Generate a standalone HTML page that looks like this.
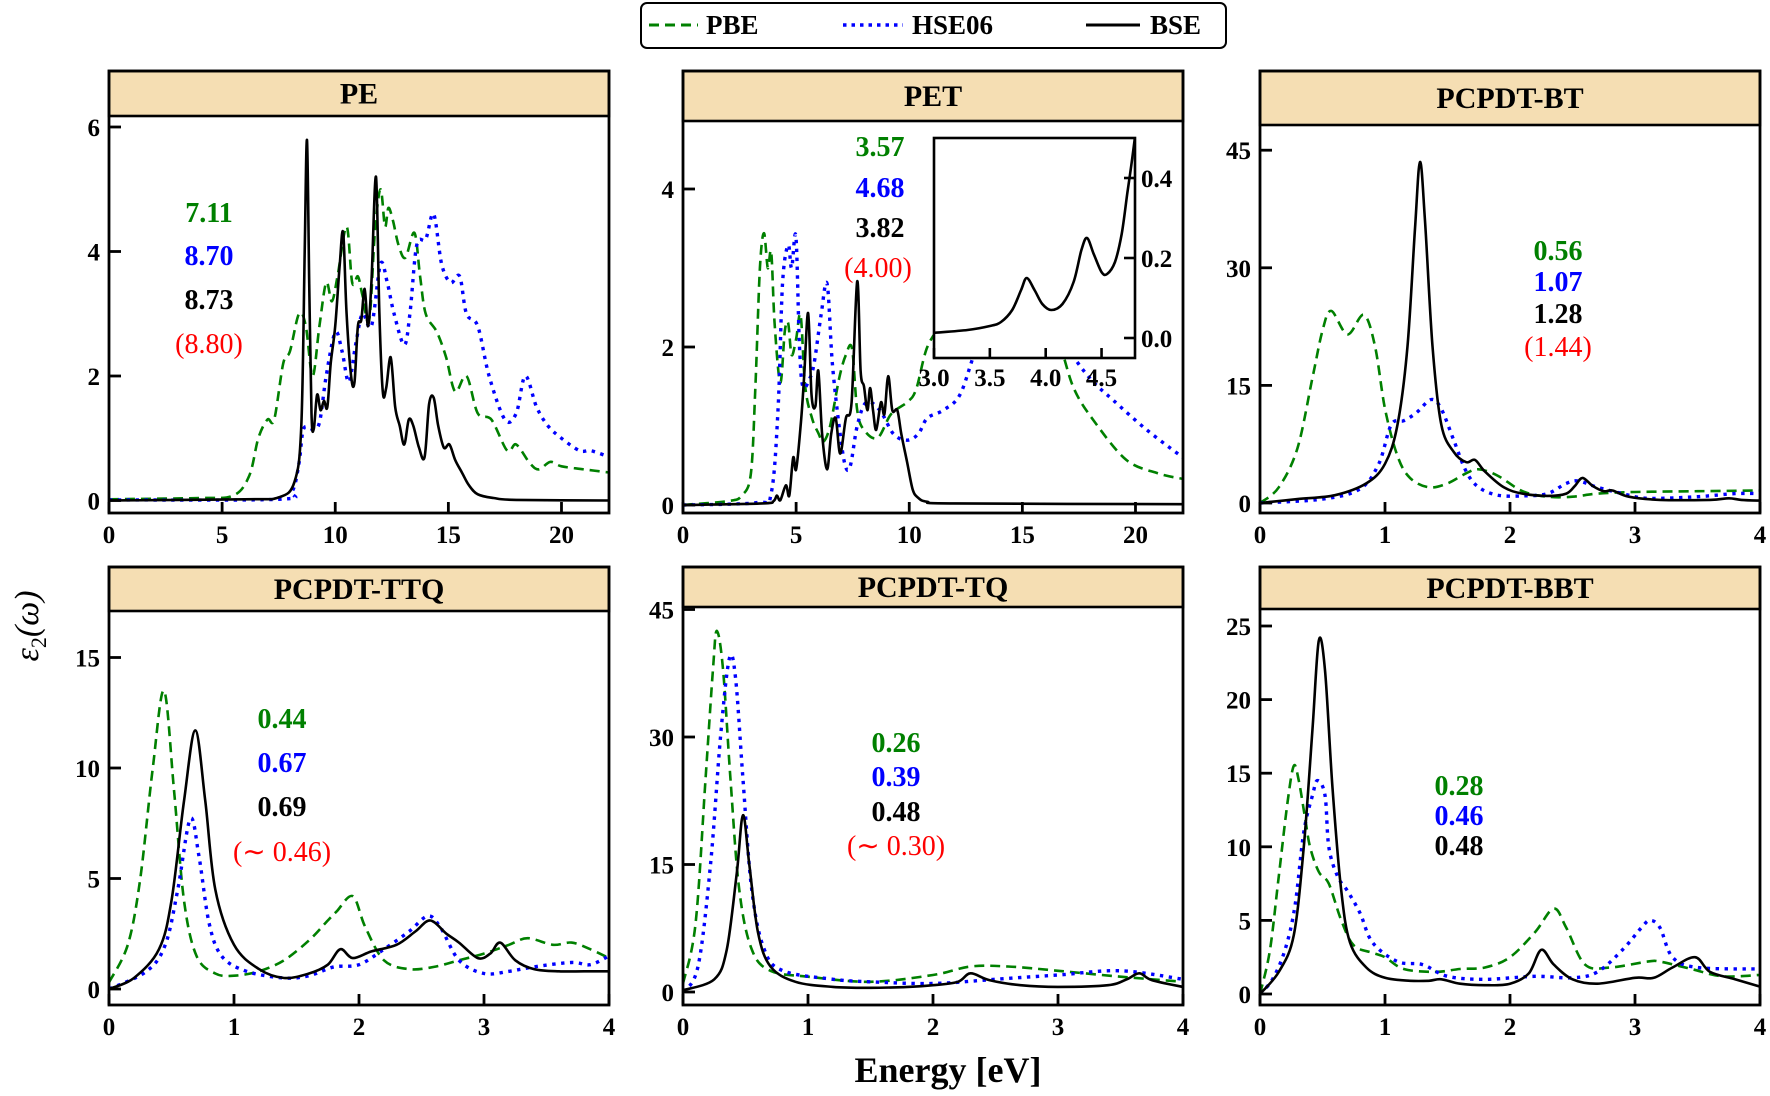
<!DOCTYPE html>
<html><head><meta charset="utf-8">
<style>
html,body{margin:0;padding:0;background:#fff;}
svg{display:block;}
text{font-family:"Liberation Serif",serif;}
</style></head>
<body>
<svg id="s" width="1770" height="1096" viewBox="0 0 1770 1096" xmlns="http://www.w3.org/2000/svg">
<defs></defs>
<g id="plots"></g>
<!-- Legend -->
<rect x="641" y="3" width="585" height="45" rx="6" ry="6" fill="#fff" stroke="#000" stroke-width="2"/>
<line x1="649" y1="25" x2="698" y2="25" stroke="#008000" stroke-width="3" stroke-dasharray="10,6"/>
<text x="706" y="34" font-size="27" font-weight="bold">PBE</text>
<line x1="843" y1="25" x2="903" y2="25" stroke="#0000ff" stroke-width="3.5" stroke-dasharray="3.5,5"/>
<text x="912" y="34" font-size="27" font-weight="bold">HSE06</text>
<line x1="1086" y1="25" x2="1140" y2="25" stroke="#000" stroke-width="3"/>
<text x="1150" y="34" font-size="27" font-weight="bold">BSE</text>
<!-- axis labels -->
<text x="948" y="1082" font-size="36" font-weight="bold" text-anchor="middle">Energy [eV]</text>
<text transform="translate(38,626) rotate(-90)" font-size="34" font-style="italic" text-anchor="middle">ε<tspan font-size="22" dy="8" font-style="normal">2</tspan><tspan dy="-8">(ω)</tspan></text>
<!-- annotations -->
<g font-size="28" font-weight="bold" text-anchor="middle">
<text x="209" y="222" fill="#008000">7.11</text>
<text x="209" y="265" fill="#0000ff">8.70</text>
<text x="209" y="309" fill="#000">8.73</text>
<text x="209" y="353" fill="#ff0000" font-weight="500">(8.80)</text>

<text x="880" y="156" fill="#008000">3.57</text>
<text x="880" y="197" fill="#0000ff">4.68</text>
<text x="880" y="237" fill="#000">3.82</text>
<text x="878" y="277" fill="#ff0000" font-weight="500">(4.00)</text>

<text x="1558" y="260" fill="#008000">0.56</text>
<text x="1558" y="291" fill="#0000ff">1.07</text>
<text x="1558" y="323" fill="#000">1.28</text>
<text x="1558" y="356" fill="#ff0000" font-weight="500">(1.44)</text>

<text x="282" y="728" fill="#008000">0.44</text>
<text x="282" y="772" fill="#0000ff">0.67</text>
<text x="282" y="816" fill="#000">0.69</text>
<text x="282" y="861" fill="#ff0000" font-weight="500">(∼ 0.46)</text>

<text x="896" y="752" fill="#008000">0.26</text>
<text x="896" y="786" fill="#0000ff">0.39</text>
<text x="896" y="821" fill="#000">0.48</text>
<text x="896" y="855" fill="#ff0000" font-weight="500">(∼ 0.30)</text>

<text x="1459" y="795" fill="#008000">0.28</text>
<text x="1459" y="825" fill="#0000ff">0.46</text>
<text x="1459" y="855" fill="#000">0.48</text>
</g>
</svg>
<script>
var NS="http://www.w3.org/2000/svg";
var svg=document.getElementById('s'),G=document.getElementById('plots'),D=svg.querySelector('defs');
function el(t,a,p){var e=document.createElementNS(NS,t);for(var k in a)e.setAttribute(k,a[k]);(p||G).appendChild(e);return e;}
function path(pts,fx,fy){var P=pts.map(function(p){return [fx(p[0]),fy(p[1])];});
 var d="M"+P[0][0].toFixed(1)+","+P[0][1].toFixed(1);
 for(var i=0;i<P.length-1;i++){var p0=P[i-1]||P[i],p1=P[i],p2=P[i+1],p3=P[i+2]||P[i+1];
  var c1=[p1[0]+(p2[0]-p0[0])/6,p1[1]+(p2[1]-p0[1])/6],c2=[p2[0]-(p3[0]-p1[0])/6,p2[1]-(p3[1]-p1[1])/6];
  d+="C"+c1[0].toFixed(1)+","+c1[1].toFixed(1)+" "+c2[0].toFixed(1)+","+c2[1].toFixed(1)+" "+p2[0].toFixed(1)+","+p2[1].toFixed(1);}
 return d;}
var sty={pbe:{stroke:"#008000","stroke-width":2.6,"stroke-dasharray":"10,6",fill:"none"},
 hse:{stroke:"#0000ff","stroke-width":3.4,"stroke-dasharray":"3.4,5.5",fill:"none"},
 bse:{stroke:"#000","stroke-width":2.6,fill:"none"}};
var cid=0;
function panel(c){
 var fx=function(x){return c.L+(x/c.xmax)*(c.R-c.L);},fy=function(y){return c.y0-y*c.ypu;};
 cid++;var cp=el('clipPath',{id:'c'+cid},D);el('rect',{x:c.L,y:c.bandB,width:c.R-c.L,height:c.B-c.bandB},cp);
 var g=el('g',{'clip-path':'url(#c'+cid+')'});
 ['pbe','hse','bse'].forEach(function(k){if(c[k]){var a=Object.assign({d:path(c[k],fx,fy)},sty[k]);el('path',a,g);}});
 c.xt.forEach(function(t){var x=fx(t);el('line',{x1:x,y1:c.B,x2:x,y2:c.B-11,stroke:"#000","stroke-width":2.8});
  var tx=el('text',{x:x,y:c.B+30,"font-size":25,"font-weight":"bold","text-anchor":"middle"});tx.textContent=t;});
 c.yt.forEach(function(t){var y=fy(t);el('line',{x1:c.L,y1:y,x2:c.L+12,y2:y,stroke:"#000","stroke-width":2.8});
  var tx=el('text',{x:c.L-9,y:y+9,"font-size":25,"font-weight":"bold","text-anchor":"end"});tx.textContent=t;});
 el('rect',{x:c.L,y:c.T,width:c.R-c.L,height:c.bandB-c.T,fill:"#f5deb3",stroke:"#000","stroke-width":2.6});
 el('rect',{x:c.L,y:c.T,width:c.R-c.L,height:c.B-c.T,fill:"none",stroke:"#000","stroke-width":2.8});
 var tt=el('text',{x:(c.L+c.R)/2,y:(c.T+c.bandB)/2+10,"font-size":30,"font-weight":"bold","text-anchor":"middle"});tt.textContent=c.title;
 return {fx:fx,fy:fy};
}
panel({title:"PE",L:109,R:609,T:71,B:513,bandB:116,xmax:22.1,y0:500.5,ypu:62.25,xt:[0,5,10,15,20],yt:[0,2,4,6],
 bse:[[0,0],[6,0.02],[7.5,0.05],[8.2,0.3],[8.5,1.2],[8.65,4],[8.75,5.79],[8.85,3.5],[8.95,1.4],[9.05,1.15],[9.2,1.7],[9.35,1.45],[9.5,1.6],[9.65,1.5],[9.8,2.2],[10,2.8],[10.2,3.8],[10.35,4.3],[10.5,3],[10.7,2],[10.85,1.9],[11,2.8],[11.15,2.9],[11.3,3.4],[11.45,2.8],[11.6,3.5],[11.8,5.2],[11.95,3],[12.1,1.75],[12.25,1.8],[12.45,2.3],[12.65,1.5],[12.85,1.2],[13.05,0.9],[13.25,1.3],[13.45,1.2],[13.7,0.85],[13.95,0.7],[14.15,1.55],[14.35,1.65],[14.55,1.2],[14.8,0.85],[15.05,0.9],[15.3,0.65],[15.6,0.45],[15.9,0.25],[16.3,0.1],[17,0.04],[18,0.01],[22.1,0]],
 pbe:[[0,0.02],[4,0.04],[5.5,0.08],[6.2,0.4],[6.6,1],[7.0,1.3],[7.3,1.3],[7.7,2.2],[8.0,2.4],[8.4,3.0],[8.7,2.8],[9.0,2.0],[9.3,2.8],[9.6,3.5],[9.85,3.2],[10.1,3.6],[10.5,4.4],[10.75,3.5],[11.0,3.6],[11.2,3.3],[11.5,2.9],[11.75,4.3],[12.0,5.0],[12.2,4.4],[12.35,4.7],[12.55,4.5],[12.8,4.1],[13.1,3.9],[13.5,4.3],[13.75,3.6],[14.0,3.0],[14.5,2.7],[14.9,2.3],[15.3,1.75],[15.8,2.0],[16.3,1.4],[16.9,1.3],[17.6,0.8],[18.0,0.9],[18.6,0.6],[19.0,0.5],[19.5,0.62],[20,0.55],[21,0.5],[22.1,0.45]],
 hse:[[0,0.01],[7.5,0.02],[8.1,0.15],[8.4,0.6],[8.6,1.15],[9.0,1.15],[9.3,1.25],[9.6,2.0],[10.0,2.7],[10.3,2.4],[10.6,1.9],[10.9,2.5],[11.2,3.0],[11.6,2.8],[12.0,3.8],[12.3,3.5],[12.6,3.0],[13.05,2.5],[13.3,3.0],[13.6,4.1],[14.0,4.2],[14.35,4.6],[14.7,3.8],[15.1,3.5],[15.5,3.6],[15.8,3.0],[16.3,2.8],[16.8,2.0],[17.5,1.3],[18.0,1.4],[18.4,2.0],[18.9,1.5],[19.4,1.2],[20.0,1.0],[20.8,0.8],[21.3,0.8],[22.1,0.7]]
});
panel({title:"PET",L:683,R:1183,T:71,B:513,bandB:121,xmax:22.1,y0:505,ypu:79,xt:[0,5,10,15,20],yt:[0,2,4],
 pbe:[[0,0],[2,0.05],[2.6,0.12],[3.0,0.4],[3.2,1.5],[3.4,3.0],[3.58,3.44],[3.75,3.0],[3.9,3.2],[4.05,2.3],[4.3,1.55],[4.5,2.2],[4.65,2.3],[4.8,1.9],[5.0,2.1],[5.2,2.4],[5.4,1.5],[5.7,1.1],[6.0,0.9],[6.2,0.8],[6.5,1.0],[6.9,1.6],[7.2,1.9],[7.47,1.98],[7.7,1.2],[8.0,0.95],[8.6,0.85],[9.2,1.15],[9.9,1.3],[10.3,1.46],[10.8,2.0],[11.5,2.3],[12.5,2.6],[13.5,2.8],[15,2.8],[16,2.6],[16.7,2.0],[17.3,1.46],[18.2,1.05],[19.6,0.57],[21,0.4],[22.1,0.33]],
 hse:[[0,0],[3.3,0.03],[3.9,0.15],[4.2,1.2],[4.4,2.8],[4.65,3.29],[4.8,3.0],[4.99,3.4],[5.15,2.0],[5.3,1.5],[5.6,1.6],[5.8,1.8],[6.1,2.4],[6.37,2.8],[6.6,1.8],[6.9,1.0],[7.17,0.5],[7.4,0.5],[7.7,1.0],[8.1,1.3],[8.7,1.2],[9.3,0.9],[9.9,0.82],[10.4,0.9],[10.8,1.1],[11.5,1.2],[12.25,1.4],[13,2.0],[14,2.5],[15,2.8],[16,2.6],[17,2.0],[18,1.6],[19,1.33],[20.5,0.95],[22.1,0.6]],
 bse:[[0,0],[3.5,0.02],[4.0,0.05],[4.15,0.12],[4.3,0.06],[4.55,0.25],[4.7,0.12],[4.87,0.6],[5.0,0.45],[5.2,1.0],[5.35,1.6],[5.53,2.43],[5.68,1.4],[5.85,1.25],[5.98,1.7],[6.15,0.9],[6.37,0.45],[6.55,0.9],[6.75,1.1],[6.95,0.65],[7.2,1.1],[7.45,1.3],[7.7,2.83],[7.85,1.7],[8.0,1.5],[8.15,1.2],[8.27,1.48],[8.4,1.2],[8.54,0.95],[8.75,1.3],[8.9,1.15],[9.07,1.63],[9.25,1.2],[9.47,1.2],[9.65,0.9],[9.9,0.55],[10.15,0.2],[10.4,0.09],[10.8,0.04],[12,0.02],[22.1,0.01]]
});
panel({title:"PCPDT-BT",L:1260,R:1760,T:71,B:513,bandB:125,xmax:4,y0:503,ypu:7.84,xt:[0,1,2,3,4],yt:[0,15,30,45],
 pbe:[[0,0],[0.15,2],[0.3,7],[0.42,16],[0.5,22],[0.57,24.5],[0.7,21.5],[0.83,24],[0.92,20],[1.0,12],[1.1,6],[1.2,3.2],[1.35,2],[1.5,2.5],[1.65,3.8],[1.75,4.3],[1.9,3.5],[2.1,1.5],[2.3,0.8],[2.5,0.8],[2.7,1.2],[3.0,1.4],[3.5,1.5],[4,1.6]],
 hse:[[0,0],[0.5,0.5],[0.8,1.8],[0.95,5],[1.05,10],[1.15,10.5],[1.25,11.5],[1.37,13.2],[1.45,12],[1.55,8],[1.65,4],[1.75,2],[1.9,1],[2.1,0.9],[2.3,1.2],[2.45,2.5],[2.55,2.8],[2.7,2],[2.9,1.2],[3.1,0.6],[3.5,0.8],[3.8,1.2],[4,1.2]],
 bse:[[0,0],[0.3,0.5],[0.6,1],[0.85,2.5],[1.0,5],[1.1,10],[1.18,20],[1.24,35],[1.28,43.5],[1.32,36],[1.38,20],[1.45,10],[1.55,6.5],[1.65,5.2],[1.72,5.5],[1.8,4],[1.95,2],[2.1,1.2],[2.3,0.9],[2.45,1.2],[2.52,2.2],[2.58,3.2],[2.66,2.2],[2.75,1.5],[2.82,1.6],[2.95,0.8],[3.2,0.4],[3.6,0.4],[3.75,0.6],[3.85,0.4],[4,0.3]]
});
panel({title:"PCPDT-TTQ",L:109,R:609,T:567,B:1005,bandB:611,xmax:4,y0:989,ypu:22.1,xt:[0,1,2,3,4],yt:[0,5,10,15],
 pbe:[[0,0.3],[0.15,2],[0.25,5],[0.35,10],[0.44,13.5],[0.52,9],[0.6,4],[0.7,1.5],[0.85,0.7],[1.0,0.6],[1.2,0.8],[1.4,1.3],[1.6,2.2],[1.75,3.1],[1.82,3.5],[1.95,4.2],[2.05,2.8],[2.2,1.3],[2.4,0.9],[2.6,1.0],[2.8,1.3],[3.0,1.6],[3.2,2],[3.35,2.3],[3.55,2.0],[3.7,2.1],[3.85,1.8],[4,1.4]],
 hse:[[0,0],[0.3,0.8],[0.45,2],[0.55,4.5],[0.65,7.7],[0.72,6],[0.8,3],[0.9,1.5],[1.1,0.8],[1.4,0.5],[1.6,0.6],[1.8,1.0],[2.0,1.1],[2.2,1.8],[2.4,2.6],[2.55,3.3],[2.65,2.8],[2.8,1.3],[3.0,0.7],[3.2,0.8],[3.4,1.0],[3.7,1.2],[3.85,1.1],[4,1.5]],
 bse:[[0,0],[0.2,0.5],[0.4,1.8],[0.5,4],[0.6,8.5],[0.69,11.7],[0.77,8.5],[0.85,4.5],[1.0,2],[1.2,0.9],[1.4,0.5],[1.6,0.7],[1.75,1.1],[1.85,1.8],[1.95,1.4],[2.1,1.7],[2.3,2.0],[2.45,2.6],[2.57,3.1],[2.7,2.5],[2.8,2.1],[2.95,1.4],[3.05,1.6],[3.13,2.1],[3.25,1.3],[3.4,0.9],[3.6,0.8],[3.8,0.8],[4,0.8]]
});
panel({title:"PCPDT-TQ",L:683,R:1183,T:567,B:1005,bandB:607,xmax:4,y0:992,ypu:8.5,xt:[0,1,2,3,4],yt:[0,15,30,45],
 pbe:[[0,1],[0.1,8],[0.18,25],[0.24,38],[0.27,42.5],[0.32,38],[0.38,25],[0.45,12],[0.55,5],[0.7,2.5],[1,1.8],[1.5,1.2],[2,2],[2.3,3],[2.6,3],[3,2.5],[3.5,1.8],[4,1.2]],
 hse:[[0,0],[0.12,3],[0.22,15],[0.3,30],[0.37,39.2],[0.42,37],[0.48,25],[0.55,12],[0.65,5],[0.8,2.5],[1.2,1.5],[1.5,1.2],[2,1],[2.5,1.5],[3,2],[3.5,2.5],[4,1.5]],
 bse:[[0,0.2],[0.25,1.5],[0.35,5],[0.43,14],[0.48,20.8],[0.53,15],[0.6,7],[0.7,3],[0.9,1.2],[1.2,0.6],[1.5,0.5],[1.8,0.6],[2,0.8],[2.2,1.2],[2.3,2.2],[2.45,1.4],[2.7,0.8],[3,0.6],[3.4,0.8],[3.55,1.5],[3.65,2.2],[3.75,1.4],[4,0.6]]
});
panel({title:"PCPDT-BBT",L:1260,R:1760,T:567,B:1005,bandB:609,xmax:4,y0:994,ypu:14.72,xt:[0,1,2,3,4],yt:[0,5,10,15,20,25],
 pbe:[[0,0],[0.08,3],[0.15,8],[0.22,13],[0.27,15.5],[0.31,14.5],[0.36,12],[0.4,10],[0.47,8.3],[0.55,7.5],[0.65,5],[0.75,3.3],[0.9,2.8],[1.0,2.5],[1.15,1.7],[1.4,1.5],[1.6,1.7],[1.8,1.8],[2.0,2.5],[2.2,4.2],[2.35,5.8],[2.45,4.5],[2.6,2.0],[2.8,1.8],[3.1,2.2],[3.2,2.2],[3.45,1.7],[3.7,1.2],[4,1.3]],
 hse:[[0,0],[0.1,1],[0.2,3],[0.28,6],[0.35,11],[0.42,13.5],[0.46,14.5],[0.52,13.5],[0.55,10],[0.62,8],[0.7,7],[0.8,5.5],[0.9,3.5],[1.1,2.2],[1.3,2.0],[1.5,1.2],[1.8,1.0],[2.2,1.2],[2.5,1.1],[2.7,1.5],[2.9,3.0],[3.05,4.5],[3.12,5],[3.2,4.5],[3.3,2.5],[3.5,1.8],[4,1.7]],
 bse:[[0,0],[0.15,1.5],[0.27,4],[0.35,10],[0.42,18],[0.47,24],[0.52,22],[0.58,14],[0.65,7],[0.72,3.5],[0.85,1.8],[1.0,1.1],[1.2,0.9],[1.35,0.9],[1.45,1],[1.6,0.7],[1.8,0.6],[2.0,0.7],[2.15,1.4],[2.25,3.0],[2.35,2.0],[2.5,1.0],[2.7,0.7],[3.0,1.1],[3.15,1.1],[3.3,1.8],[3.48,2.5],[3.6,1.5],[3.8,1.0],[4,0.5]]
});
(function(){
 var L=934,R=1135,T=138,B=358;
 el('rect',{x:L,y:T,width:R-L,height:B-T,fill:"#fff",stroke:"none"});
 var fx=function(x){return L+(x-3)*111.7;},fy=function(y){return 338-y*400;};
 cid++;var cp=el('clipPath',{id:'c'+cid},D);el('rect',{x:L,y:T,width:R-L,height:B-T},cp);
 var pts=[[3.0,0.013],[3.3,0.02],[3.5,0.03],[3.6,0.04],[3.7,0.07],[3.78,0.12],[3.83,0.15],[3.9,0.12],[3.97,0.085],[4.05,0.07],[4.15,0.085],[4.25,0.14],[4.32,0.22],[4.37,0.25],[4.43,0.21],[4.5,0.165],[4.55,0.16],[4.62,0.19],[4.68,0.26],[4.73,0.36],[4.78,0.46],[4.82,0.55]];
 el('path',{d:path(pts,fx,fy),stroke:"#000","stroke-width":2.6,fill:"none","clip-path":"url(#c"+cid+")"});
 [3.0,3.5,4.0,4.5].forEach(function(t){var x=fx(t);el('line',{x1:x,y1:B,x2:x,y2:B-10,stroke:"#000","stroke-width":2.6});
  var tx=el('text',{x:x,y:B+28,"font-size":25,"font-weight":"bold","text-anchor":"middle"});tx.textContent=t.toFixed(1);});
 [0,0.2,0.4].forEach(function(t){var y=fy(t);el('line',{x1:R,y1:y,x2:R-11,y2:y,stroke:"#000","stroke-width":2.6});
  var tx=el('text',{x:R+6,y:y+9,"font-size":25,"font-weight":"bold"});tx.textContent=t.toFixed(1);});
 el('rect',{x:L,y:T,width:R-L,height:B-T,fill:"none",stroke:"#000","stroke-width":2.6});
})();
</script>
</body></html>
